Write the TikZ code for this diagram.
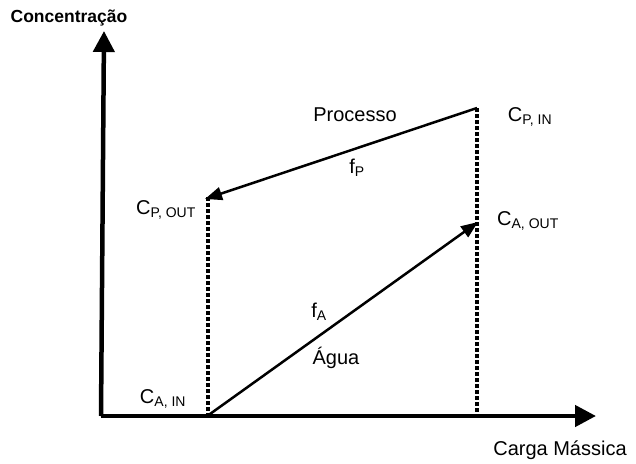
\documentclass[tikz,border=0pt]{standalone}
\usepackage{fontspec}
\setmainfont{Liberation Sans}
\usetikzlibrary{arrows.meta}
\begin{document}
\begin{tikzpicture}[x=1pt, y=-1pt,
  axis/.style={line width=4.5pt, -{Triangle[length=21pt, width=21pt]}},
  flow/.style={line width=2.5pt, -{Triangle[length=17pt, width=13pt]}},
  limit/.style={line width=3.5pt, dash pattern=on 3.5pt off 2.5pt},
  lbl/.style={font=\fontsize{20}{24}\selectfont, inner sep=1pt}]
  \useasboundingbox (0,0) rectangle (636,463);
  % axes
  \coordinate (origin) at (101,416);
  \coordinate (ytip) at (104,31);
  \coordinate (xtip) at (596,416);
  \draw[axis] (origin) -- (ytip);
  \draw[axis] (origin) -- (xtip);
  \node[lbl, font=\fontsize{17.5}{21}\selectfont\bfseries] (ylabel) at (69,18) {Concentração};
  \node[lbl] (xlabel) at (560,450) {Carga Mássica};
  % process and water lines
  \coordinate (pin) at (477,108);
  \coordinate (pout) at (205,199);
  \coordinate (ain) at (210,414);
  \coordinate (aout) at (478,222);
  \coordinate (pinbase) at (477,414);
  \coordinate (poutbase) at (208,414);
  \coordinate (pouttop) at (208,197);
  \draw[limit] (pin) -- (pinbase);
  \draw[limit] (pouttop) -- (poutbase);
  \draw[flow] (pin) -- (pout);
  \draw[flow] (ain) -- (aout);
  % labels
  \node[lbl] (cpin) at (530,117) {C\textsubscript{P, IN}};
  \node[lbl] (caout) at (528,221) {C\textsubscript{A, OUT}};
  \node[lbl] (cpout) at (166,210) {C\textsubscript{P, OUT}};
  \node[lbl] (cain) at (163,399) {C\textsubscript{A, IN}};
  \node[lbl] (proc) at (355,115) {Processo};
  \node[lbl] (fp) at (357,168) {f\textsubscript{P}};
  \node[lbl] (fa) at (319,312) {f\textsubscript{A}};
  \node[lbl] (agua) at (336,358) {Água};
\end{tikzpicture}
\end{document}
